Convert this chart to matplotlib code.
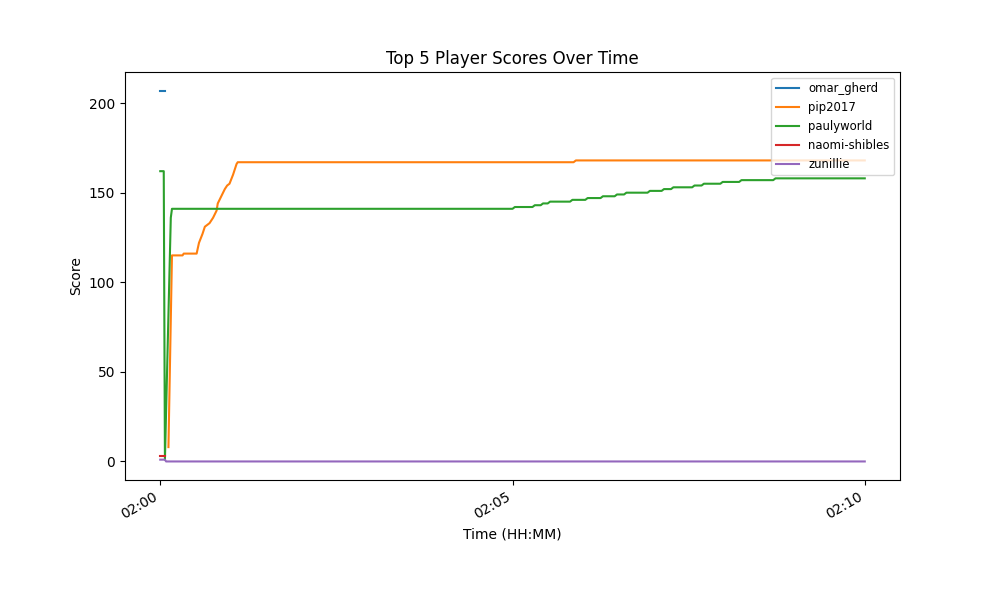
import pandas as pd
import matplotlib
matplotlib.use("Agg")
import matplotlib.pyplot as plt
import matplotlib.dates as mdates

# Session start; every series below is given as seconds after this moment
START = pd.Timestamp("2024-01-01 02:00:00")

players = ["omar_gherd", "pip2017", "paulyworld", "naomi-shibles", "zunillie"]

omar_secs = [0, 4]
omar_scores = [207, 207]

pip_secs = [7, 10, 19, 20, 31, 33, 36, 38, 42, 45, 48, 49, 52, 55, 57, 59, 62, 65, 66,
            352, 354, 600]
pip_scores = [8, 115, 115, 116, 116, 122, 127, 131, 133, 136, 140, 144, 148, 152, 154, 155,
              160, 166, 167, 167, 168, 168]

pauly_secs = [0, 3, 4, 9, 10, 300, 302, 317, 319, 324, 326, 330, 332, 349, 351, 362, 364,
              375, 377, 387, 389, 395, 397, 415, 417, 427, 429, 435, 437, 453, 455, 461, 463,
              477, 479, 493, 495, 522, 524, 600]
pauly_scores = [162, 162, 1, 136, 141, 141, 142, 142, 143, 143, 144, 144, 145, 145, 146, 146,
                147, 147, 148, 148, 149, 149, 150, 150, 151, 151, 152, 152, 153, 153, 154, 154,
                155, 155, 156, 156, 157, 157, 158, 158]

naomi_secs = [0, 4]
naomi_scores = [3, 3]

zunillie_secs = [0, 4, 5, 600]
zunillie_scores = [1, 1, 0, 0]

series = [
    (omar_secs, omar_scores),
    (pip_secs, pip_scores),
    (pauly_secs, pauly_scores),
    (naomi_secs, naomi_scores),
    (zunillie_secs, zunillie_scores),
]

fig, ax = plt.subplots(figsize=(10, 6), dpi=100)

for name, (secs, scores) in zip(players, series):
    times = START + pd.to_timedelta(secs, unit="s")
    ax.plot(times, scores, label=name)

ax.set_title("Top 5 Player Scores Over Time")
ax.set_xlabel("Time (HH:MM)")
ax.set_ylabel("Score")
ax.xaxis.set_major_locator(mdates.MinuteLocator(byminute=[0, 5, 10, 15, 20, 25, 30, 35, 40, 45, 50, 55]))
ax.xaxis.set_major_formatter(mdates.DateFormatter("%H:%M"))
ax.legend(loc="upper right", fontsize="small")
fig.autofmt_xdate()

plt.savefig("out.png", dpi=100)
plt.close()
